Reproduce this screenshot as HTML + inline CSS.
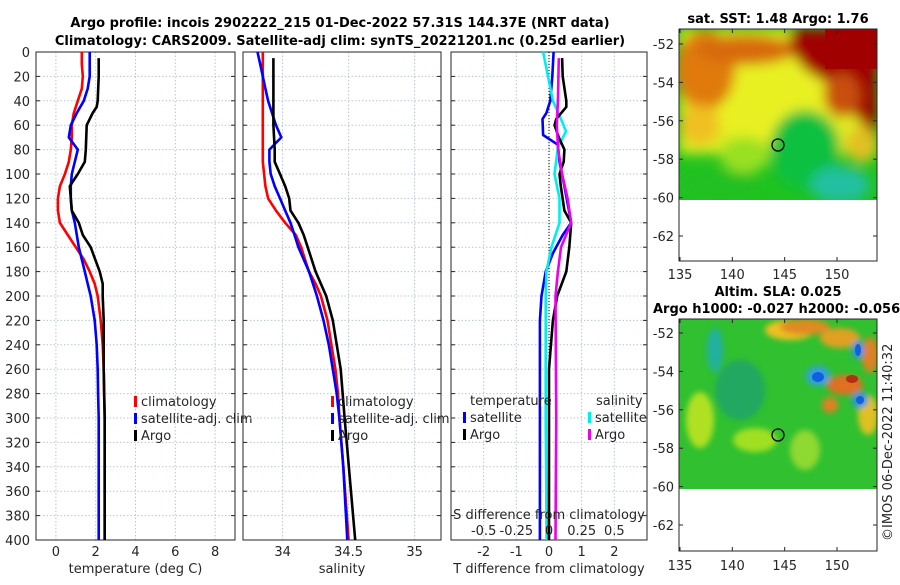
<!DOCTYPE html>
<html><head><meta charset="utf-8"><style>
body{margin:0;background:#fff}
svg text{font-family:"DejaVu Sans","Liberation Sans",sans-serif;fill:#262626}
.t{font-size:13px}
.b{font-weight:bold;fill:#000}
</style></head><body>
<svg id="c" width="900" height="580" xmlns="http://www.w3.org/2000/svg">
<defs>
<filter id="bl" x="-20%" y="-20%" width="140%" height="140%"><feGaussianBlur stdDeviation="6"/></filter>
<filter id="bl2" x="-30%" y="-30%" width="160%" height="160%"><feGaussianBlur stdDeviation="3"/></filter>
<clipPath id="cp1"><rect x="679" y="29" width="198" height="171"/></clipPath>
<clipPath id="cp2"><rect x="679" y="319" width="198" height="170"/></clipPath>
</defs>
<text x="340" y="27" text-anchor="middle" class="t b">Argo profile: incois 2902222_215 01-Dec-2022 57.31S 144.37E (NRT data)</text>
<text x="340" y="45" text-anchor="middle" class="t b">Climatology: CARS2009. Satellite-adj clim: synTS_20221201.nc (0.25d earlier)</text>
<g id="g1"></g>
<g id="g2"></g>
<g id="g3"></g>

<!-- SST map -->
<g>
<text x="778" y="23" text-anchor="middle" class="t b">sat. SST: 1.48 Argo: 1.76</text>
<g clip-path="url(#cp1)">
<rect x="679" y="29" width="198" height="171" fill="#1fc31f"/>
<g filter="url(#bl)">
<rect x="679" y="29" width="198" height="125" fill="#e0ea20"/>
<ellipse cx="770" cy="100" rx="70" ry="40" fill="#e8f020"/>
<ellipse cx="705" cy="70" rx="30" ry="40" fill="#e07a10"/>
<ellipse cx="745" cy="50" rx="50" ry="15" fill="#d86a10"/>
<ellipse cx="700" cy="125" rx="20" ry="20" fill="#f0c020"/>
<path d="M790 29 L877 29 L877 140 L850 110 L830 85 L805 70 L790 50 Z" fill="#a00000"/>
<ellipse cx="842" cy="95" rx="18" ry="22" fill="#c85010"/>
<ellipse cx="862" cy="145" rx="16" ry="18" fill="#e0c020"/>
<ellipse cx="805" cy="150" rx="35" ry="40" fill="#10c040"/>
<ellipse cx="840" cy="185" rx="30" ry="18" fill="#20c0a0"/>
<ellipse cx="720" cy="185" rx="40" ry="15" fill="#20c020"/>
<ellipse cx="745" cy="155" rx="25" ry="18" fill="#9ae020"/>
</g>
<rect x="825" y="29" width="52" height="40" fill="#a00000"/>
</g>
<rect x="679" y="29" width="198" height="232" fill="none" stroke="#262626"/>
<circle cx="778" cy="145" r="6" fill="none" stroke="#000" stroke-width="1.3"/>
<g id="m1ticks"></g>
</g>

<!-- SLA map -->
<g>
<text x="778" y="296" text-anchor="middle" class="t b">Altim. SLA: 0.025</text>
<text x="653" y="313" class="t b">Argo h1000: -0.027 h2000: -0.056</text>
<g clip-path="url(#cp2)">
<rect x="679" y="319" width="198" height="170" fill="#30c030"/>
<g filter="url(#bl2)">
<ellipse cx="715" cy="350" rx="8" ry="22" fill="#20b0a0"/>
<ellipse cx="740" cy="390" rx="25" ry="30" fill="#20a860"/>
<ellipse cx="790" cy="330" rx="25" ry="10" fill="#f0c020"/>
<ellipse cx="805" cy="327" rx="25" ry="8" fill="#e08a20"/>
<ellipse cx="840" cy="338" rx="20" ry="10" fill="#e0a020"/>
<ellipse cx="700" cy="420" rx="14" ry="28" fill="#b0e020"/>
<ellipse cx="755" cy="440" rx="22" ry="12" fill="#a0e020"/>
<ellipse cx="805" cy="450" rx="15" ry="20" fill="#90d830"/>
<ellipse cx="845" cy="385" rx="18" ry="10" fill="#e07020"/>
<ellipse cx="830" cy="405" rx="8" ry="8" fill="#e08020"/>
<ellipse cx="868" cy="415" rx="10" ry="20" fill="#e0c020"/>
<ellipse cx="870" cy="355" rx="8" ry="18" fill="#e08020"/>
<ellipse cx="818" cy="376" rx="12" ry="10" fill="#30a0e0"/>
<ellipse cx="858" cy="350" rx="6" ry="9" fill="#3090e0"/>
<ellipse cx="860" cy="400" rx="8" ry="8" fill="#3090e0"/>
</g>
<ellipse cx="818" cy="377" rx="6" ry="5" fill="#1060e0"/>
<ellipse cx="858" cy="350" rx="3" ry="6" fill="#1060e0"/>
<ellipse cx="860" cy="400" rx="4" ry="4" fill="#1060e0"/>
<ellipse cx="852" cy="379" rx="6" ry="4" fill="#b03010"/>
</g>
<rect x="679" y="319" width="198" height="232" fill="none" stroke="#262626"/>
<circle cx="778" cy="435" r="6" fill="none" stroke="#000" stroke-width="1.3"/>
<g id="m2ticks"></g>
</g>
<text transform="translate(892,541) rotate(-90)" class="t">©IMOS 06-Dec-2022 11:40:32</text>
</svg>
<script>
const depths    = [0,10,20,30,40,50,60,70,80,90,100,110,120,130,140,150,160,170,180,190,200,220,240,260,280,300,340,400];
const climT     = [1.3,1.3,1.35,1.3,1.1,0.9,0.8,0.8,0.75,0.65,0.45,0.2,0.1,0.1,0.2,0.6,1.0,1.4,1.7,1.95,2.1,2.25,2.35,2.4,2.42,2.45,2.45,2.45];
const satT      = [1.7,1.7,1.7,1.6,1.4,1.05,0.75,0.65,1.1,0.95,0.8,0.75,0.75,0.8,0.95,1.05,1.15,1.3,1.45,1.6,1.75,1.95,2.05,2.1,2.12,2.15,2.15,2.15];
const argoDepths= [5,20,40,45,50,60,80,90,100,110,120,130,140,150,160,180,190,200,220,260,300,400];
const argoT     = [2.15,2.15,2.1,2.05,1.85,1.55,1.5,1.45,1.1,0.7,0.75,0.8,1.15,1.35,1.75,2.2,2.35,2.35,2.4,2.4,2.45,2.45];
const climS     = [33.85,33.85,33.85,33.85,33.85,33.85,33.85,33.85,33.85,33.85,33.86,33.87,33.89,33.95,34.02,34.1,34.14,34.17,34.2,34.25,34.29,34.34,34.37,34.4,34.42,34.43,34.46,34.5];
const satS      = [33.81,33.83,33.85,33.87,33.89,33.92,33.95,33.99,33.9,33.9,33.91,33.94,33.98,34.02,34.06,34.09,34.12,34.16,34.2,34.23,34.26,34.31,34.35,34.38,34.41,34.43,34.46,34.49];
const argoS     = [33.93,33.93,33.93,33.93,33.93,33.93,33.94,33.94,33.98,34.02,34.05,34.06,34.12,34.16,34.19,34.25,34.29,34.33,34.38,34.44,34.47,34.55];
// difference panel
const satTdDepths = [0,20,40,50,55,68,76,90,110,140,150,165,180,200,220,400];
const satTd       = [0.14,0.1,0.04,-0.08,-0.2,-0.18,0.27,0.32,0.47,0.68,0.42,0.12,-0.1,-0.23,-0.28,-0.28];
const argoTdDepths= [5,20,40,45,55,60,70,80,90,100,110,130,140,160,180,200,220,260,400];
const argoTd      = [0.4,0.42,0.53,0.53,0.22,0.17,0.3,0.47,0.45,0.32,0.36,0.47,0.68,0.62,0.53,0.25,0.12,0.0,0.0];
const satSdDepths = [0,20,40,55,65,78,100,120,140,160,180,200,300,400];
const satSd       = [-0.045,-0.008,0.03,0.092,0.13,0.068,0.042,0.08,0.08,0.018,-0.02,-0.025,-0.025,-0.018];
const argoSdDepths= [5,40,60,80,100,120,140,160,180,200,300,400];
const argoSd      = [0.075,0.068,0.06,0.07,0.1,0.142,0.17,0.092,0.068,0.05,0.055,0.05];
const depthTicks= [0,20,40,60,80,100,120,140,160,180,200,220,240,260,280,300,320,340,360,380,400];
const tTicks    = [0,2,4,6,8];
const sTicks    = [34,34.5,35];
const sTickLbl  = ["34","34.5","35"];
const dTicks    = [-2,-1,0,1,2];
const sdTicks   = [-0.5,-0.25,0,0.25,0.5];
const sdTickLbl = ["-0.5","-0.25","0","0.25","0.5"];
const latTicks  = [-52,-54,-56,-58,-60,-62];
const lonTicks  = [135,140,145,150];

const NS='http://www.w3.org/2000/svg';
function mk(tag,attrs,parent,txt){const e=document.createElementNS(NS,tag);for(const k in attrs)e.setAttribute(k,attrs[k]);if(txt!==undefined)e.textContent=txt;parent.appendChild(e);return e;}
const Y0=52,Y1=540;
const yD=d=>Y0+(d/400)*(Y1-Y0);
function lin(d0,d1,r0,r1){return v=>r0+(v-d0)/(d1-d0)*(r1-r0);}

function panel(g,x0,x1,xs,ticks,lbls,xlabel,showY){
  ticks.forEach((t,i)=>{const x=xs(t);
    const l=mk('line',{x1:x,x2:x,y1:Y0,y2:Y1,stroke:'#b8c4dc','stroke-dasharray':'1.5,2'},g);
    
    
    const tx=mk('text',{x:x,y:Y1+16,'text-anchor':'middle',class:'t'},g,lbls?lbls[i]:String(t));
    
    
  });
  depthTicks.forEach(d=>{const y=yD(d);
    const l=mk('line',{x1:x0,x2:x1,y1:y,y2:y,stroke:'#b8c4dc','stroke-dasharray':'1.5,2'},g);
    
    
    mk('line',{x1:x0,x2:x0+4,y1:y,y2:y,stroke:'#262626'},g);
    mk('line',{x1:x1-4,x2:x1,y1:y,y2:y,stroke:'#262626'},g);
    if(showY){const tx=mk('text',{x:x0-6,y:y+5,'text-anchor':'end',class:'t'},g,String(d));
      
      }
  });
  const r=mk('rect',{x:x0,y:Y0,width:x1-x0,height:Y1-Y0,fill:'none',stroke:'#262626'},g);
  
  
  const xl=mk('text',{x:(x0+x1)/2,y:Y1+33,'text-anchor':'middle',class:'t'},g,xlabel);
  
  
}
function line(g,xsArr,dArr,xs,color,name){
  const pts=xsArr.map((v,i)=>xs(v).toFixed(1)+','+yD(dArr[i]).toFixed(1)).join(' ');
  const p=mk('polyline',{points:pts,fill:'none',stroke:color,'stroke-width':2.6,'stroke-linejoin':'round'},g);
  
  
}
function legend(g,x,y,items){
  items.forEach((it,i)=>{const yy=y+i*17;
    mk('rect',{x:x,y:yy-10,width:3,height:11,fill:it[1]},g);
    const t=mk('text',{x:x+7,y:yy,class:'t'},g,it[0]);
    
    
  });
}
// panel 1
const g1=document.getElementById('g1');
const xT=lin(-1,9,36,235);
panel(g1,36,235,xT,tTicks,null,'temperature (deg C)',true);
line(g1,climT,depths,xT,'#f00','climatology-temperature-line');
line(g1,satT,depths,xT,'#00f','satellite-temperature-line');
line(g1,argoT,argoDepths,xT,'#000','argo-temperature-line');
legend(g1,134,406,[['climatology','#f00'],['satellite-adj. clim','#00f'],['Argo','#000']]);
// panel 2
const g2=document.getElementById('g2');
const xS=lin(33.7,35.2,243,441);
panel(g2,243,441,xS,sTicks,sTickLbl,'salinity',false);
line(g2,climS,depths,xS,'#f00','climatology-salinity-line');
line(g2,satS,depths,xS,'#00f','satellite-salinity-line');
line(g2,argoS,argoDepths,xS,'#000','argo-salinity-line');
legend(g2,331,406,[['climatology','#f00'],['satellite-adj. clim','#00f'],['Argo','#000']]);
// panel 3
const g3=document.getElementById('g3');
const xDf=lin(-3,3,451,647);
const xSd=v=>xDf(v*4);
panel(g3,451,647,xDf,dTicks,null,'T difference from climatology',false);
const z=mk('line',{x1:xDf(0),x2:xDf(0),y1:Y0,y2:Y1,stroke:'#000','stroke-dasharray':'1,2'},g3);


line(g3,satTd,satTdDepths,xDf,'#00f','satellite-t-diff-line');
line(g3,satSd,satSdDepths,xSd,'#0ee','satellite-s-diff-line');
line(g3,argoTd,argoTdDepths,xDf,'#000','argo-t-diff-line');
line(g3,argoSd,argoSdDepths,xSd,'#e0e','argo-s-diff-line');
const t1=mk('text',{x:470,y:405,class:'t'},g3,'temperature');


const t2=mk('text',{x:596,y:405,class:'t'},g3,'salinity');


legend(g3,463,422,[['satellite','#00f'],['Argo','#000']]);
legend(g3,588,422,[['satellite','#0ee'],['Argo','#e0e']]);
const st=mk('text',{x:549,y:519,'text-anchor':'middle',class:'t'},g3,'S difference from climatology');


sdTicks.forEach((v,i)=>{const tx=mk('text',{x:xSd(v),y:535,'text-anchor':'middle',class:'t'},g3,sdTickLbl[i]);
  
  });
// map ticks
function mapTicks(id,yTop,yBot,latY0,latY1,lblY){
  const g=document.getElementById(id);
  const yl=lin(-52,-62,latY0,latY1), xl=lin(135,150,680,837);
  latTicks.forEach(v=>{const y=yl(v);
    mk('line',{x1:679,x2:683,y1:y,y2:y,stroke:'#262626'},g);
    mk('line',{x1:873,x2:877,y1:y,y2:y,stroke:'#262626'},g);
    const t=mk('text',{x:674,y:y+5,'text-anchor':'end',class:'t'},g,String(v));
    
    });
  lonTicks.forEach(v=>{const x=xl(v);
    mk('line',{x1:x,x2:x,y1:yBot-4,y2:yBot,stroke:'#262626'},g);
    mk('line',{x1:x,x2:x,y1:yTop,y2:yTop+4,stroke:'#262626'},g);
    const t=mk('text',{x:x,y:lblY,'text-anchor':'middle',class:'t'},g,String(v));
    
    });
}
mapTicks('m1ticks',29,261,44,236,279);
mapTicks('m2ticks',319,551,333,525,570);
</script>
</body></html>
